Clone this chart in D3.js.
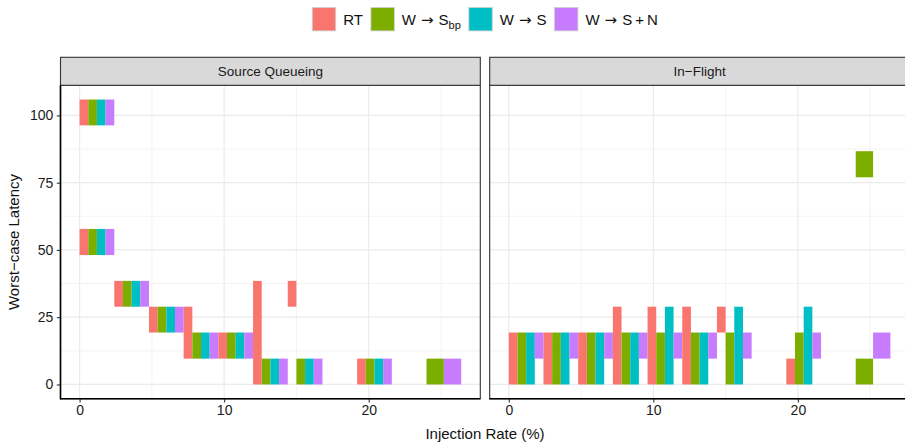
<!DOCTYPE html>
<html>
<head>
<meta charset="utf-8">
<script src="https://cdn.jsdelivr.net/npm/d3@7"></script>
<style>
  body { margin: 0; background: #fff; }
  svg text { font-family: "Liberation Sans", Arial, sans-serif; }
</style>
</head>
<body>
<svg id="chart"></svg>
<script>
// routing configs, same order as the legend and the dodge slots
const configs = ['RT', 'W->Sbp', 'W->S', 'W->S+N'];
const colors = ['#F8766D', '#7CAE00', '#00BFC4', '#C77CFF'];
const panels = ['Source Queueing', 'In\u2212Flight'];

// each injection rate is a group 2.4 wide, centred on the rate
const rateWidth = 2.4;
const xTicks = [0, 10, 20];
const yTicks = [0, 25, 50, 75, 100];

// [injection rate, config index, latency low, latency high]
const sourceQueueing = [
    [1.2, 0, 96.3, 105.9], [1.2, 1, 96.3, 105.9], [1.2, 2, 96.3, 105.9], [1.2, 3, 96.3, 105.9],
    [1.2, 0, 48.1, 57.8], [1.2, 1, 48.1, 57.8], [1.2, 2, 48.1, 57.8], [1.2, 3, 48.1, 57.8],
    [3.6, 0, 28.9, 38.5], [3.6, 1, 28.9, 38.5], [3.6, 2, 28.9, 38.5], [3.6, 3, 28.9, 38.5],
    [6.0, 0, 19.3, 28.9], [6.0, 1, 19.3, 28.9], [6.0, 2, 19.3, 28.9], [6.0, 3, 19.3, 28.9],
    [8.4, 0, 9.6, 28.9], [8.4, 1, 9.6, 19.3], [8.4, 2, 9.6, 19.3], [8.4, 3, 9.6, 19.3],
    [10.8, 0, 9.6, 19.3], [10.8, 1, 9.6, 19.3], [10.8, 2, 9.6, 19.3], [10.8, 3, 9.6, 19.3],
    [13.2, 0, 0, 38.5], [13.2, 1, 0, 9.6], [13.2, 2, 0, 9.6], [13.2, 3, 0, 9.6],
    [15.6, 0, 28.9, 38.5], [15.6, 1, 0, 9.6], [15.6, 2, 0, 9.6], [15.6, 3, 0, 9.6],
    [20.4, 0, 0, 9.6], [20.4, 1, 0, 9.6], [20.4, 2, 0, 9.6], [20.4, 3, 0, 9.6],
    [25.2, 1, 0, 9.6], [25.2, 3, 0, 9.6]
];

const inFlight = [
    [1.2, 0, 0, 19.3], [1.2, 1, 0, 19.3], [1.2, 2, 0, 19.3], [1.2, 3, 9.6, 19.3],
    [3.6, 0, 0, 19.3], [3.6, 1, 0, 19.3], [3.6, 2, 0, 19.3], [3.6, 3, 9.6, 19.3],
    [6.0, 0, 0, 19.3], [6.0, 1, 0, 19.3], [6.0, 2, 0, 19.3], [6.0, 3, 9.6, 19.3],
    [8.4, 0, 0, 28.9], [8.4, 1, 0, 19.3], [8.4, 2, 0, 19.3], [8.4, 3, 9.6, 19.3],
    [10.8, 0, 0, 28.9], [10.8, 1, 0, 19.3], [10.8, 2, 0, 28.9], [10.8, 3, 9.6, 19.3],
    [13.2, 0, 0, 28.9], [13.2, 1, 0, 19.3], [13.2, 2, 0, 19.3], [13.2, 3, 9.6, 19.3],
    [15.6, 0, 19.3, 28.9], [15.6, 1, 0, 19.3], [15.6, 2, 0, 28.9], [15.6, 3, 9.6, 19.3],
    [20.4, 0, 0, 9.6], [20.4, 1, 0, 19.3], [20.4, 2, 0, 28.9], [20.4, 3, 9.6, 19.3],
    [25.2, 1, 0, 9.6], [25.2, 1, 77.0, 86.7], [25.2, 3, 9.6, 19.3]
];

class latencyTiles {

  constructor(_config, _data) {
    this.config = {
      parentElement: _config.parentElement,
      containerWidth: _config.containerWidth || 905,
      containerHeight: _config.containerHeight || 445,
      panelTop: 85.3,
      panelBottom: 398.7,
      panelLefts: [60.5, 489.7],
      panelWidth: 419.8,
      stripHeight: 28
    }
    this.data = _data;
    this.initVis();
  }

  initVis() {
    let vis = this;

    vis.svg = d3.select(vis.config.parentElement)
        .attr('width', vis.config.containerWidth)
        .attr('height', vis.config.containerHeight);

    // dodge: every config present at a rate gets an equal share of the group
    vis.tiles = [];
    vis.data.forEach((rows, p) => {
      d3.group(rows, d => d[0]).forEach((group, rate) => {
        let present = Array.from(new Set(group.map(d => d[1]))).sort((a, b) => a - b);
        let slot = rateWidth / present.length;
        group.forEach(d => {
          let i = present.indexOf(d[1]);
          let x0 = rate - rateWidth / 2 + i * slot;
          vis.tiles.push({panel: p, cfg: d[1], x0: x0, x1: x0 + slot, lo: d[2], hi: d[3]});
        });
      });
    });

    // ggplot-style 5% expansion on both scales
    let xExt = d3.extent(vis.tiles.flatMap(d => [d.x0, d.x1]));
    let yExt = d3.extent(vis.tiles.flatMap(d => [d.lo, d.hi]));
    let xPad = (xExt[1] - xExt[0]) * 0.05;
    let yPad = (yExt[1] - yExt[0]) * 0.05;

    vis.yScale = d3.scaleLinear()
        .domain([yExt[0] - yPad, yExt[1] + yPad])
        .range([vis.config.panelBottom, vis.config.panelTop]);

    vis.xScales = vis.config.panelLefts.map(left => d3.scaleLinear()
        .domain([xExt[0] - xPad, xExt[1] + xPad])
        .range([left, left + vis.config.panelWidth]));

    vis.renderVis();
  }

  renderVis() {
    let vis = this;
    let top = vis.config.panelTop;
    let bottom = vis.config.panelBottom;

    vis.xScales.forEach((x, p) => {
      let left = x.range()[0];
      let right = x.range()[1];
      let g = vis.svg.append('g').attr('class', 'panel');

      g.append('rect')
          .attr('x', left).attr('y', top)
          .attr('width', right - left).attr('height', bottom - top)
          .attr('fill', '#fff');

      // minor grid
      let yMinor = yTicks.slice(0, -1).map(d => d + 12.5);
      let xMinor = xTicks.map(d => d + 5);
      g.selectAll('.ymin').data(yMinor).join('line')
          .attr('x1', left).attr('x2', right)
          .attr('y1', d => vis.yScale(d)).attr('y2', d => vis.yScale(d))
          .attr('stroke', '#EBEBEB').attr('stroke-width', 0.6);
      g.selectAll('.xmin').data(xMinor).join('line')
          .attr('y1', top).attr('y2', bottom)
          .attr('x1', d => x(d)).attr('x2', d => x(d))
          .attr('stroke', '#EBEBEB').attr('stroke-width', 0.6);

      // major grid
      g.selectAll('.ymaj').data(yTicks).join('line')
          .attr('x1', left).attr('x2', right)
          .attr('y1', d => vis.yScale(d)).attr('y2', d => vis.yScale(d))
          .attr('stroke', '#EBEBEB').attr('stroke-width', 1.2);
      g.selectAll('.xmaj').data(xTicks).join('line')
          .attr('y1', top).attr('y2', bottom)
          .attr('x1', d => x(d)).attr('x2', d => x(d))
          .attr('stroke', '#EBEBEB').attr('stroke-width', 1.2);

      g.selectAll('.tile')
          .data(vis.tiles.filter(d => d.panel === p))
        .join('rect')
          .attr('x', d => x(d.x0))
          .attr('width', d => x(d.x1) - x(d.x0))
          .attr('y', d => vis.yScale(d.hi))
          .attr('height', d => vis.yScale(d.lo) - vis.yScale(d.hi))
          .attr('fill', d => colors[d.cfg]);

      g.append('rect')
          .attr('x', left).attr('y', top)
          .attr('width', right - left).attr('height', bottom - top)
          .attr('fill', 'none').attr('stroke', '#333').attr('stroke-width', 1.1);

      // strip
      g.append('rect')
          .attr('x', left).attr('y', top - vis.config.stripHeight)
          .attr('width', right - left).attr('height', vis.config.stripHeight)
          .attr('fill', '#D9D9D9').attr('stroke', '#333').attr('stroke-width', 1.1);
      g.append('text')
          .attr('x', (left + right) / 2).attr('y', top - vis.config.stripHeight / 2)
          .attr('text-anchor', 'middle').attr('dominant-baseline', 'central')
          .style('font-size', '13.5px').attr('fill', '#1A1A1A')
          .text(panels[p]);

      // x axis
      let xAxis = d3.axisBottom(x).tickValues(xTicks).tickSize(3.7).tickPadding(3);
      let xg = g.append('g')
          .attr('transform', `translate(0,${bottom})`)
          .call(xAxis);
      xg.select('.domain').remove();
      xg.append('line')
          .attr('x1', left - 0.5).attr('x2', right)
          .attr('stroke', '#000').attr('stroke-width', 1.6);
      xg.selectAll('.tick line').attr('stroke', '#333').attr('stroke-width', 1.1);
      xg.selectAll('.tick text').style('font-size', '14px').attr('fill', '#1a1a1a')
          .attr('font-family', null);

      if (p === 0) {
        let yAxis = d3.axisLeft(vis.yScale).tickValues(yTicks).tickSize(3.7).tickPadding(3.5);
        let yg = g.append('g')
            .attr('transform', `translate(${left},0)`)
            .call(yAxis);
        yg.select('.domain').remove();
        yg.append('line')
            .attr('y1', top).attr('y2', bottom + 0.5)
            .attr('stroke', '#000').attr('stroke-width', 1.6);
        yg.selectAll('.tick line').attr('stroke', '#333').attr('stroke-width', 1.1);
        yg.selectAll('.tick text').style('font-size', '14px').attr('fill', '#1a1a1a')
            .attr('font-family', null);
      }
    });

    // axis titles
    let midX = (vis.config.panelLefts[0] + vis.config.panelLefts[1] + vis.config.panelWidth) / 2;
    vis.svg.append('text')
        .attr('x', midX).attr('y', 439)
        .attr('text-anchor', 'middle')
        .style('font-size', '15px').attr('fill', '#111')
        .text('Injection Rate (%)');
    vis.svg.append('text')
        .attr('transform', `translate(19,${(top + bottom) / 2}) rotate(-90)`)
        .attr('text-anchor', 'middle')
        .style('font-size', '15px').attr('fill', '#111')
        .text('Worst\u2212case Latency');

    vis.renderLegend();
  }

  renderLegend() {
    let vis = this;
    let legend = vis.svg.append('g').attr('class', 'legend');
    let x = 312.3;
    let keySize = 23.4;

    configs.forEach((c, i) => {
      legend.append('rect')
          .attr('x', x).attr('y', 7.5)
          .attr('width', keySize).attr('height', keySize)
          .attr('fill', colors[i])
          .attr('stroke', '#CFCFCF').attr('stroke-width', 0.8);

      let label = legend.append('text')
          .attr('x', x + keySize + 7.5).attr('y', 24.5)
          .style('font-size', '15px').attr('fill', '#111');

      if (c === 'RT') {
        label.text('RT');
      } else {
        // plotmath style arrow, wider than the text font's glyph
        label.append('tspan').text('W');
        label.append('tspan').attr('dx', 5).attr('font-family', 'DejaVu Sans')
            .style('font-size', '15px').text('\u2192');
        label.append('tspan').attr('dx', 5).text('S');
        if (c === 'W->Sbp') {
          label.append('tspan').attr('dy', 4).style('font-size', '11px').text('bp');
        } else if (c === 'W->S+N') {
          label.append('tspan').attr('dx', 3).text('+');
          label.append('tspan').attr('dx', 3).text('N');
        }
      }
      let box = label.node().getBBox();
      x = box.x + box.width + 8;
    });
  }
}

new latencyTiles({ parentElement: '#chart' }, [sourceQueueing, inFlight]);
</script>
</body>
</html>
